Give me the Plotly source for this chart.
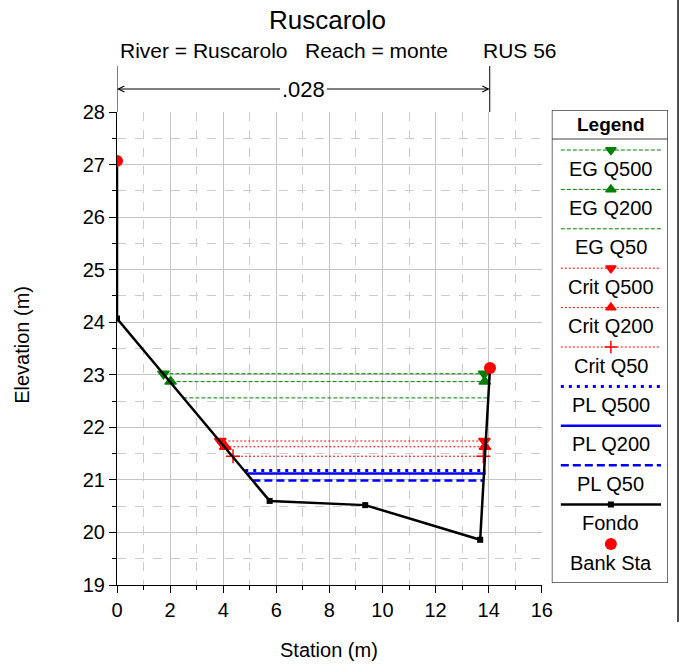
import plotly.graph_objects as go

# ground profile (Fondo)
station = [0.0, 0.0, 5.75, 9.35, 13.68, 14.05]
elev = [27.07, 24.07, 20.60, 20.52, 19.86, 23.13]

# bank stations
bank_x = [0.0, 14.05]
bank_y = [27.07, 23.13]

# water surface profiles: name, elevation, left station, right station
ws_names = ["EG Q500", "EG Q200", "EG Q50", "Crit Q500", "Crit Q200", "Crit Q50",
            "PL Q500", "PL Q200", "PL Q50"]
ws_elev = [23.02, 22.87, 22.56, 21.74, 21.63, 21.45, 21.18, 21.12, 20.99]
ws_left = [1.75, 2.02, 2.50, 3.89, 4.08, 4.37, 4.83, 4.92, 5.10]
ws_right = [13.83, 13.85, 13.98, 13.84, 13.86, 13.80, 13.89, 13.89, 13.82]

roughness = ".028"

GREEN = "#008000"
RED = "#ff0000"
BLUE = "#0000ff"
FONT = "Liberation Sans, Arial, sans-serif"

styles = {
    "EG Q500": dict(color=GREEN, width=1, dash="4px,2px", symbol="triangle-down", msize=10),
    "EG Q200": dict(color=GREEN, width=1, dash="4px,2px", symbol="triangle-up", msize=10),
    "EG Q50": dict(color=GREEN, width=1, dash="4px,2px", symbol=None, msize=0),
    "Crit Q500": dict(color=RED, width=1, dash="2px,2px", symbol="triangle-down", msize=10),
    "Crit Q200": dict(color=RED, width=1, dash="2px,2px", symbol="triangle-up", msize=10),
    "Crit Q50": dict(color=RED, width=1, dash="2px,2px", symbol="cross-thin", msize=10),
    "PL Q500": dict(color=BLUE, width=3, dash="3px,5px", symbol=None, msize=0),
    "PL Q200": dict(color=BLUE, width=2.5, dash="solid", symbol=None, msize=0),
    "PL Q50": dict(color=BLUE, width=2.5, dash="8px,4px", symbol=None, msize=0),
}

fig = go.Figure()

for name, y, x0, x1 in zip(ws_names, ws_elev, ws_left, ws_right):
    s = styles[name]
    tr = go.Scatter(x=[x0, x1], y=[y, y], mode="lines", name=name,
                    line=dict(color=s["color"], width=s["width"], dash=s["dash"]),
                    showlegend=False, hoverinfo="skip")
    if s["symbol"]:
        tr.mode = "lines+markers"
        tr.marker = dict(symbol=s["symbol"], size=s["msize"], color=s["color"],
                         line=dict(color=s["color"], width=1.5))
    fig.add_trace(tr)

fig.add_trace(go.Scatter(x=station, y=elev, mode="lines+markers", name="Fondo",
                         line=dict(color="black", width=2.5),
                         marker=dict(symbol="square", size=6, color="black"),
                         showlegend=False))
fig.add_trace(go.Scatter(x=bank_x, y=bank_y, mode="markers", name="Bank Sta",
                         marker=dict(symbol="circle", size=12, color=RED),
                         showlegend=False))

# ---- custom legend drawn on a hidden axis (page pixel coords) ----
leg_names = ws_names + ["Fondo", "Bank Sta"]
leg_top = 150
leg_step = 39.4
for i, name in enumerate(leg_names):
    ly = leg_top + i * leg_step
    if name in styles:
        s = styles[name]
        fig.add_trace(go.Scatter(x=[560, 660], y=[ly, ly], mode="lines", xaxis="x2", yaxis="y2",
                                 line=dict(color=s["color"], width=s["width"], dash=s["dash"]),
                                 showlegend=False, hoverinfo="skip"))
        if s["symbol"]:
            fig.add_trace(go.Scatter(x=[610], y=[ly], mode="markers", xaxis="x2", yaxis="y2",
                                     marker=dict(symbol=s["symbol"], size=9, color=s["color"],
                                                 line=dict(color=s["color"], width=1.5)),
                                     showlegend=False, hoverinfo="skip"))
    elif name == "Fondo":
        fig.add_trace(go.Scatter(x=[560, 660], y=[ly, ly], mode="lines", xaxis="x2", yaxis="y2",
                                 line=dict(color="black", width=2.5), showlegend=False, hoverinfo="skip"))
        fig.add_trace(go.Scatter(x=[610], y=[ly], mode="markers", xaxis="x2", yaxis="y2",
                                 marker=dict(symbol="square", size=6, color="black"),
                                 showlegend=False, hoverinfo="skip"))
    else:
        fig.add_trace(go.Scatter(x=[610], y=[ly], mode="markers", xaxis="x2", yaxis="y2",
                                 marker=dict(symbol="circle", size=12, color=RED),
                                 showlegend=False, hoverinfo="skip"))
    fig.add_annotation(x=610, y=ly + 18.5, xref="x2", yref="y2", text=name, showarrow=False,
                       xanchor="center", yanchor="middle",
                       font=dict(size=20, color="black", family=FONT))

fig.add_annotation(x=610, y=124, xref="x2", yref="y2", text="<b>Legend</b>", showarrow=False,
                   xanchor="center", yanchor="middle",
                   font=dict(size=19, color="black", family=FONT))
fig.add_shape(type="rect", xref="x2", yref="y2", x0=551, x1=667, y0=110, y1=583,
              line=dict(color="#404040", width=1.5))
fig.add_shape(type="line", xref="x2", yref="y2", x0=551, x1=667, y0=139, y1=139,
              line=dict(color="#404040", width=1))

# roughness annotation above the plot
fig.add_annotation(x=7.02, y=1.0442, xref="x", yref="paper", text=roughness, showarrow=False,
                   xanchor="center", yanchor="middle",
                   font=dict(size=22, color="black", family=FONT))
fig.add_annotation(x=0, y=1.0442, xref="x", yref="paper", ax=6.2, axref="x", ay=0, ayref="pixel",
                   text="", showarrow=True, arrowhead=5, arrowsize=1.2, arrowwidth=1, arrowcolor="black")
fig.add_annotation(x=14.04, y=1.0442, xref="x", yref="paper", ax=7.85, axref="x", ay=0, ayref="pixel",
                   text="", showarrow=True, arrowhead=5, arrowsize=1.2, arrowwidth=1, arrowcolor="black")
for bx in [0, 14.04]:
    fig.add_shape(type="line", xref="x", yref="paper", x0=bx, x1=bx, y0=0.9958, y1=1.0926,
                  line=dict(color="black", width=1))

# titles
fig.add_annotation(x=(327 - 117) / 550, y=(585 - 20) / 475, xref="paper", yref="paper",
                   text="Ruscarolo", showarrow=False, xanchor="center", yanchor="middle",
                   font=dict(size=26, color="black", family=FONT))
fig.add_annotation(x=(118 - 117) / 550, y=(585 - 50) / 475, xref="paper", yref="paper",
                   xanchor="left", yanchor="middle",
                   text="River = Ruscarolo   Reach = monte", showarrow=False,
                   font=dict(size=21, color="black", family=FONT))
fig.add_annotation(x=(480 - 117) / 550, y=(585 - 50) / 475, xref="paper", yref="paper",
                   xanchor="left", yanchor="middle",
                   text="RUS 56", showarrow=False,
                   font=dict(size=21, color="black", family=FONT))
fig.add_annotation(x=(22 - 117) / 550, y=(585 - 345) / 475, xref="paper", yref="paper",
                   text="Elevation (m)", textangle=-90, showarrow=False,
                   xanchor="center", yanchor="middle",
                   font=dict(size=20, color="black", family=FONT))
fig.add_annotation(x=(329 - 117) / 550, y=(585 - 650) / 475, xref="paper", yref="paper",
                   text="Station (m)", showarrow=False, xanchor="center", yanchor="middle",
                   font=dict(size=20, color="black", family=FONT))

# window frame line on the right
fig.add_shape(type="line", xref="paper", yref="paper", x0=(677 - 117) / 550, x1=(677 - 117) / 550,
              y0=(585 - 622) / 475, y1=(585 - 0) / 475,
              line=dict(color="#505050", width=2))

# the page renders the figure 12px narrower than asked, so ask for 12px more
fig.update_layout(
    width=691, height=665,
    margin=dict(l=117, r=12, t=110, b=80),
    paper_bgcolor="white", plot_bgcolor="white",
    font=dict(family=FONT, size=20, color="black"),
    xaxis=dict(domain=[0, 424 / 550], range=[0, 16], dtick=2, tick0=0,
               showline=True, linecolor="black", linewidth=1,
               ticks="outside", ticklen=7, tickcolor="black",
               showgrid=True, gridcolor="#c4c4c4", gridwidth=1, zeroline=False,
               minor=dict(dtick=1, showgrid=True, griddash="dash", gridcolor="#cccccc",
                          ticks="outside", ticklen=4, tickcolor="black"),
               tickfont=dict(size=20)),
    yaxis=dict(domain=[0, 473 / 475], range=[19, 28], dtick=1, tick0=19,
               showline=True, linecolor="black", linewidth=1,
               ticks="outside", ticklen=7, tickcolor="black",
               showgrid=True, gridcolor="#c4c4c4", gridwidth=1, zeroline=False,
               minor=dict(dtick=0.5, showgrid=True, griddash="dash", gridcolor="#cccccc",
                          ticks="outside", ticklen=4, tickcolor="black"),
               tickfont=dict(size=20)),
    xaxis2=dict(domain=[(551 - 117) / 550, 1.0], range=[551, 667], visible=False, anchor="y2"),
    yaxis2=dict(domain=[(585 - 583) / 475, 1.0], range=[583, 110], visible=False, anchor="x2"),
    showlegend=False,
)

# drop the default page margin so the figure sits at the window's top-left corner
fig.write_html("out.html", config={"displayModeBar": False},
               post_script="document.body.style.margin='0';document.body.style.overflow='hidden';")
